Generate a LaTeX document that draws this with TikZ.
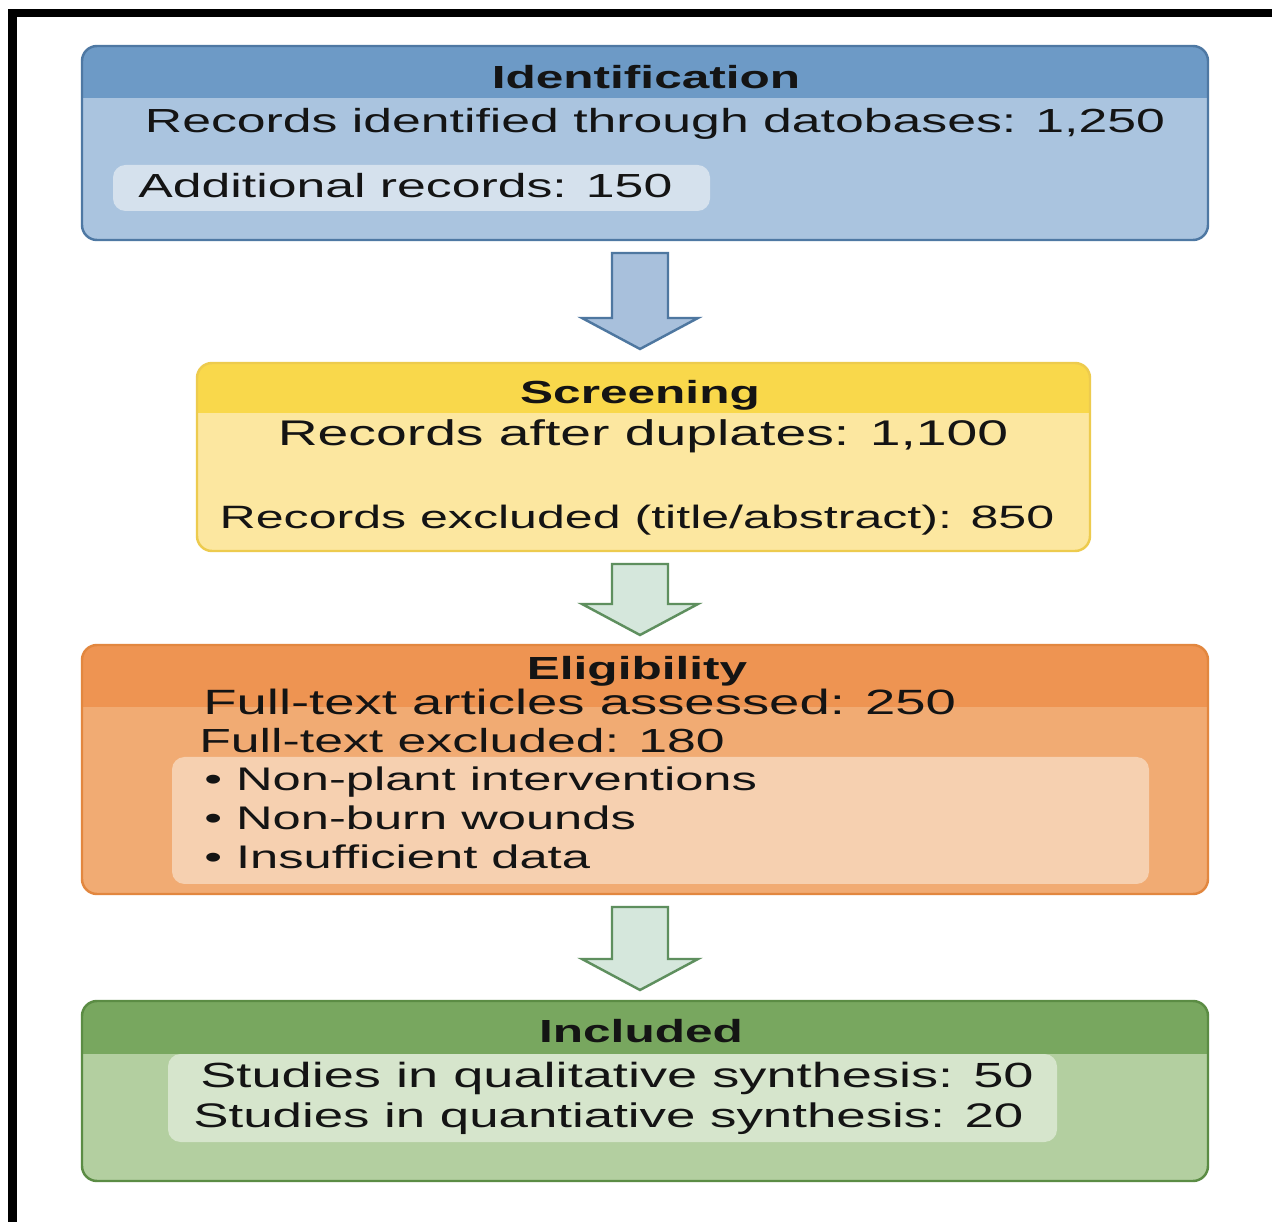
\documentclass[tikz,border=0pt]{standalone}
\usepackage{fontspec}
\setmainfont{Liberation Sans}[FakeStretch=1.55]
\usetikzlibrary{calc,fit}

\definecolor{IdentHead}{HTML}{6D9AC6}
\definecolor{IdentBody}{HTML}{AAC4DF}
\definecolor{IdentLine}{HTML}{4E78A3}
\definecolor{IdentInner}{HTML}{D5E1ED}
\definecolor{ScreenHead}{HTML}{F9D84B}
\definecolor{ScreenBody}{HTML}{FCE7A0}
\definecolor{ScreenLine}{HTML}{EDCB4E}
\definecolor{EligHead}{HTML}{EE9452}
\definecolor{EligBody}{HTML}{F1AB73}
\definecolor{EligLine}{HTML}{E2873F}
\definecolor{EligInner}{HTML}{F6D0B0}
\definecolor{InclHead}{HTML}{78A75F}
\definecolor{InclBody}{HTML}{B3CFA0}
\definecolor{InclLine}{HTML}{5B8C44}
\definecolor{InclInner}{HTML}{D6E5CC}
\definecolor{ArrowBlue}{HTML}{A8C0DC}
\definecolor{ArrowBlueLine}{HTML}{4E77A0}
\definecolor{ArrowGreen}{HTML}{D5E7DC}
\definecolor{ArrowGreenLine}{HTML}{5E8F5E}
\colorlet{TextDark}{black!92}

\tikzset{
    stagebox/.style={draw, rounded corners=0.3cm, line width=1.4pt, inner sep=0pt},
    headband/.style 2 args={path picture={
        \fill[#1, sharp corners] (path picture bounding box.north west) rectangle ($(path picture bounding box.north east)+(0,#2)$);}},
    pill/.style={rounded corners=0.25cm, inner sep=0pt},
    lbl/.style={anchor=base west, inner sep=0pt, text=TextDark, font=\fontsize{19}{23}\selectfont},
    mid/.style={lbl, anchor=base},
    ttl/.style={anchor=base, inner sep=0pt, text=TextDark, font=\fontsize{18.2}{22}\selectfont\bfseries},
    flowarrow/.style={line width=1.4pt, line join=miter}
}

\newcommand{\blockarrow}[3]{%
    \draw[flowarrow, #1] ($(#2)+(-28,0)$) -- ($(#2)+(28,0)$) -- ($(#3)+(28,-31)$) -- ($(#3)+(58,-31)$)
        -- (#3) -- ($(#3)+(-58,-31)$) -- ($(#3)+(-28,-31)$) -- cycle;}

\begin{document}
\begin{tikzpicture}[x=0.02cm, y=-0.02cm]

    \useasboundingbox (0,0) rectangle (1272,1222);
    \fill[white] (0,0) rectangle (1272,1222);
    \draw[line width=5.1pt, line join=miter] (12.5,1400) -- (12.5,13) -- (1400,13);

    \node[stagebox, draw=IdentLine, fill=IdentBody, headband={IdentHead}{52}, fit={(82,46) (1208,240)}] (ident) {};
    \node[stagebox, draw=ScreenLine, fill=ScreenBody, headband={ScreenHead}{50}, fit={(197,363) (1090,551)}] (screen) {};
    \node[stagebox, draw=EligLine, fill=EligBody, headband={EligHead}{62}, fit={(82,645) (1208,894)}] (elig) {};
    \node[stagebox, draw=InclLine, fill=InclBody, headband={InclHead}{53}, fit={(82,1001) (1208,1181)}] (incl) {};

    \node[pill, fill=IdentInner, fit={(113,165) (710,211)}] (identextra) {};
    \node[pill, fill=EligInner, fit={(172,757) (1149,884)}] (eligreasons) {};
    \node[pill, fill=InclInner, fit={(168,1054) (1057,1142)}] (inclstudies) {};

    \coordinate (a1top) at (640,253);
    \coordinate (a1tip) at (640,349);
    \coordinate (a2top) at (640,564);
    \coordinate (a2tip) at (640,635);
    \coordinate (a3top) at (640,907);
    \coordinate (a3tip) at (640,990);

    \blockarrow{fill=ArrowBlue, draw=ArrowBlueLine}{a1top}{a1tip}
    \blockarrow{fill=ArrowGreen, draw=ArrowGreenLine}{a2top}{a2tip}
    \blockarrow{fill=ArrowGreen, draw=ArrowGreenLine}{a3top}{a3tip}

    \node[ttl] (identtitle) at (646,89) {Identification};
    \node[mid] (identrec) at (655,133) {Records identified through datobases: 1,250};
    \node[lbl] (identadd) at (138,198) {Additional records: 150};

    \node[ttl] (screentitle) at (640,404) {Screening};
    \node[mid, font=\fontsize{20.3}{24}\selectfont] (screenrec) at (643,446) {Records after duplates: 1,100};
    \node[mid, font=\fontsize{18.4}{22}\selectfont] (screenexcl) at (637,529) {Records excluded (title/abstract): 850};

    \node[ttl] (eligtitle) at (637,680) {Eligibility};
    \node[lbl, font=\fontsize{20}{24}\selectfont] (eligfull) at (203,715) {Full-text articles assessed: 250};
    \node[lbl] (eligexcl) at (199,753) {Full-text excluded: 180};
    \foreach \reason [count=\i] in {Non-plant interventions, Non-burn wounds, Insufficient data}
        \node[lbl, font=\fontsize{18.6}{22}\selectfont] (reason\i) at (204,752+39*\i) {• \reason};

    \node[ttl] (incltitle) at (641,1042) {Included};
    \node[lbl, font=\fontsize{19.9}{24}\selectfont] (inclqual) at (200,1087) {Studies in qualitative synthesis: 50};
    \node[lbl, font=\fontsize{19.4}{23}\selectfont] (inclquant) at (193,1127) {Studies in quantiative synthesis: 20};
\end{tikzpicture}
\end{document}
